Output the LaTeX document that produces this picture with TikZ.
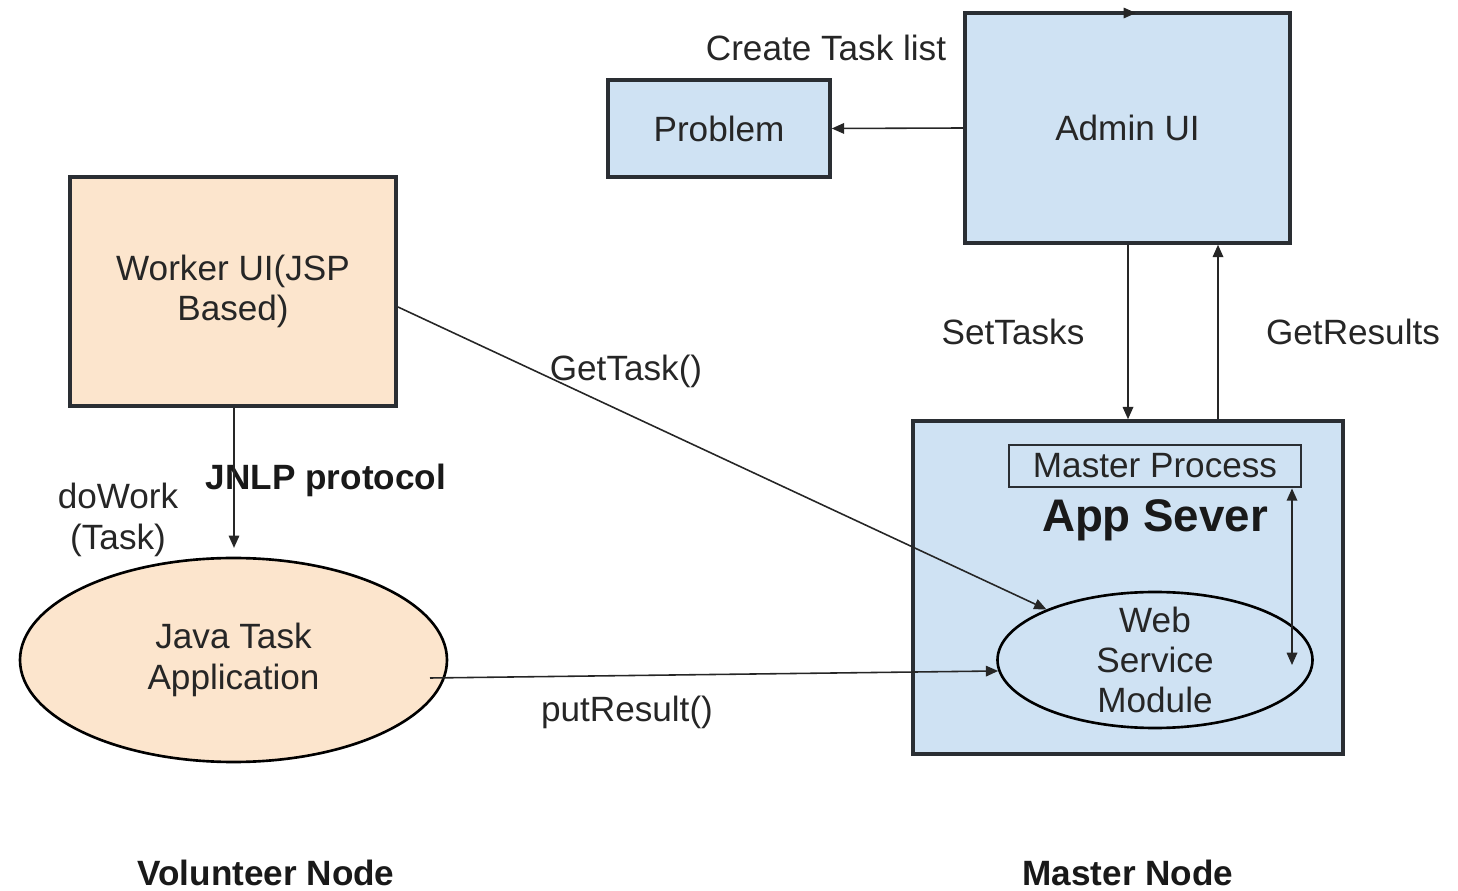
\documentclass[tikz,border=0pt]{standalone}
\usepackage{fontspec}
\setmainfont{Liberation Sans}
\usetikzlibrary{arrows.meta,shapes.geometric}
\definecolor{lblue}{HTML}{CFE2F3}
\definecolor{peach}{HTML}{FCE5CD}
\definecolor{edge}{HTML}{2A2E33}
\tikzset{
  box/.style={draw=edge,line width=2pt,fill=lblue,inner sep=0pt},
  pbox/.style={draw=edge,line width=2pt,fill=peach,inner sep=0pt},
  ell/.style={ellipse,draw=black,line width=1.5pt,inner sep=0pt},
  arr/.style={draw=black!85,line width=0.9pt,-{Triangle[length=7pt,width=6pt]}},
  darr/.style={draw=black!85,line width=0.9pt,{Triangle[length=7pt,width=6pt]}-{Triangle[length=7pt,width=6pt]}},
  txt/.style={font=\fontsize{20}{24}\selectfont,align=center,text=black!85,inner sep=0pt},
  btxt/.style={font=\fontsize{20}{24}\selectfont\bfseries,align=center,text=black!90,inner sep=0pt},
}
\begin{document}
\begin{tikzpicture}[x=0.02cm,y=-0.02cm]
\useasboundingbox (0,0) rectangle (1458,891);
% boxes
\node[box,minimum width=325*0.02cm,minimum height=230*0.02cm] (admin) at (1127.5,128) {};
\node[txt] at (admin.center) {Admin UI};
\node[box,minimum width=222*0.02cm,minimum height=97*0.02cm] (problem) at (719,128.5) {};
\node[txt] at (problem.center) {Problem};
\node[pbox,minimum width=326*0.02cm,minimum height=229*0.02cm] (worker) at (233,291.5) {};
\node[txt,font=\fontsize{20}{23}\selectfont] at (worker.center) {Worker UI(JSP\\Based)};
\node[ell,fill=peach,minimum width=427*0.02cm,minimum height=204*0.02cm] (java) at (233.5,660) {};
\node[txt,font=\fontsize{20}{23}\selectfont] at (java.center) {Java Task\\Application};
\node[box,minimum width=430*0.02cm,minimum height=333*0.02cm] (app) at (1128,587.5) {};
\node[box,line width=1.6pt,minimum width=292*0.02cm,minimum height=42*0.02cm] (mp) at (1155,466) {};
\node[txt] at (mp.center) {Master Process};
\node[btxt,font=\fontsize{26}{30}\selectfont\bfseries] (appl) at (1155,520) {App Sever};
\node[ell,fill=lblue,minimum width=315*0.02cm,minimum height=136*0.02cm] (wsm) at (1155,660) {};
\node[txt,font=\fontsize{20}{23}\selectfont] at (wsm.center) {Web\\Service\\Module};
% labels
\node[txt] at (826,48) {Create Task list};
\node[txt] at (1013,332) {SetTasks};
\node[txt] at (1353,332) {GetResults};
\node[txt] at (626,371) {GetTask()};
\node[txt] at (627,712) {putResult()};
\node[btxt] at (326,480) {JNLP protocol};
\node[txt,font=\fontsize{20}{23}\selectfont] at (118,520) {doWork\\(Task)};
\node[btxt] at (266,873) {Volunteer Node};
\node[btxt] at (1128,873) {Master Node};
% connectors
\coordinate (st) at (1128,0);
\coordinate (gr) at (1218,0);
\coordinate (jn) at (234,0);
\coordinate (mpx) at (1292,0);
\coordinate (gt0) at (398,307);
\coordinate (pr0) at (430,678);
\coordinate (dd) at (1292,665);
\coordinate (tk) at (1136,13);
\draw[arr] (admin.west) -- (problem.east);
\draw[arr] (admin.south -| st) -- (app.north -| st);
\draw[arr] (app.north -| gr) -- (admin.south -| gr);
\draw[arr] (worker.south -| jn) -- ([yshift=5pt]java.north -| jn);
\draw[arr] (gt0) -- (wsm.155);
\draw[arr] (pr0) -- (wsm.184);
\draw[darr] (mp.south -| mpx) -- (dd);
\draw[arr,line width=0.6pt] ([xshift=-3pt]tk) -- (tk);
\end{tikzpicture}
\end{document}
